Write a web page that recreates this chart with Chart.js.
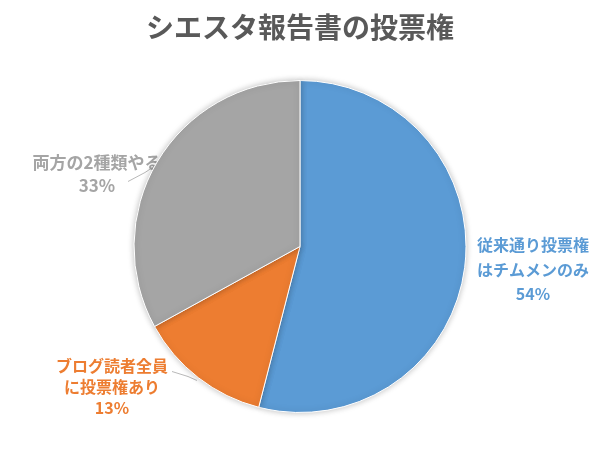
<!DOCTYPE html>
<html><head><meta charset="utf-8">
<script src="https://cdn.jsdelivr.net/npm/chart.js@4"></script>
<style>html,body{margin:0;padding:0;background:#fff}#c{display:block}</style>
</head><body>
<canvas id="c" width="600" height="450"></canvas>
<script>
const titleText = 'シエスタ報告書の投票権';
const categories = [['従来通り投票権','はチムメンのみ'], ['ブログ読者全員','に投票権あり'], ['両方の2種類やる']];
const values = [54, 13, 33];
const colors = ['#5B9BD5', '#ED7D31', '#A5A5A5'];

const FONT = '"Noto Sans CJK JP", "Noto Sans", sans-serif';
// label placement (style): offset from pie center, line height, leader line points relative to center
const labelStyle = [
  {dx: 233, dy: 23, weight: 'bold', size: 16, lh: 24.5, leader: null},
  {dx: -188, dy: 140, weight: 'bold', size: 16, lh: 21, leader: [[-128,125],[-112,130],[-103,134]]},
  {dx: -203, dy: -72, weight: '600', size: 17, lh: 23, leader: [[-172,-65],[-155,-74],[-140,-84]]}
];

const labelPlugin = {
  id: 'labels',
  beforeDatasetsDraw(chart) {
    const ctx = chart.ctx;
    const meta = chart.getDatasetMeta(0);
    const arc = meta.data[0];
    const cx = arc.x, cy = arc.y;
    const total = values.reduce((a,b)=>a+b,0);
    ctx.save();
    categories.forEach((lines, i) => {
      const st = labelStyle[i];
      const all = lines.concat([Math.round(values[i]/total*100) + '%']);
      ctx.fillStyle = colors[i];
      ctx.font = st.weight + ' ' + st.size + 'px ' + FONT;
      ctx.textAlign = 'center';
      ctx.textBaseline = 'middle';
      const y0 = cy + st.dy - (all.length - 1) * st.lh / 2;
      all.forEach((t, k) => ctx.fillText(t, cx + st.dx, y0 + k * st.lh));
      if (st.leader) {
        ctx.strokeStyle = '#A6A6A6';
        ctx.lineWidth = 0.8;
        ctx.beginPath();
        st.leader.forEach((p, k) => k ? ctx.lineTo(cx+p[0], cy+p[1]) : ctx.moveTo(cx+p[0], cy+p[1]));
        ctx.stroke();
      }
    });
    ctx.restore();
    ctx.save();
    ctx.shadowColor = 'rgba(0,0,0,0.25)';
    ctx.shadowBlur = 6;
  },
  afterDatasetsDraw(chart) {
    chart.ctx.restore();
  },
  afterDraw(chart) {
    const ctx = chart.ctx;
    ctx.save();
    ctx.fillStyle = '#595959';
    ctx.font = 'bold 28px ' + FONT;
    ctx.textAlign = 'center';
    ctx.textBaseline = 'middle';
    ctx.fillText(titleText, 300, 27);
    ctx.restore();
  }
};

new Chart(document.getElementById('c'), {
  type: 'pie',
  data: {
    labels: categories.map(l => l.join('')),
    datasets: [{
      data: values,
      backgroundColor: colors,
      borderColor: '#ffffff',
      borderWidth: 1
    }]
  },
  options: {
    responsive: false,
    animation: false,
    layout: {padding: {top: 80, bottom: 37, left: 100, right: 100}},
    plugins: {legend: {display: false}, title: {display: false}, tooltip: {enabled: false}}
  },
  plugins: [labelPlugin]
});
</script>
</body></html>
